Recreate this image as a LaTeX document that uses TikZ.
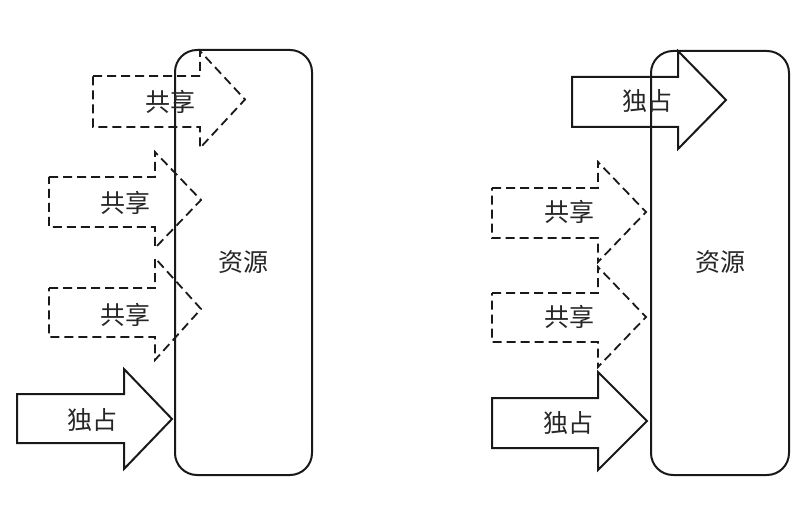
\documentclass[tikz,border=0pt]{standalone}
\usepackage{fontspec}
\newfontfamily\cjk{Noto Sans CJK SC}
\newcommand{\blockarrow}[9]{\draw[#1] (#2,#3) -- (#5,#3) -- (#5,#6) -- (#8,#9) -- (#5,#7) -- (#5,#4) -- (#2,#4) -- cycle;}
\tikzset{
  res/.style={draw=black!90, line width=2pt, rounded corners=22pt},
  solidarrow/.style={draw=black!90, line width=2pt, line join=miter},
  dasharrow/.style={draw=black!90, line width=1.8pt, dash pattern=on 9pt off 5pt},
  lbl/.style={font=\cjk\fontsize{25}{30}\selectfont, text=black!85, inner sep=0pt}
}
\begin{document}
\begin{tikzpicture}[x=1pt,y=-1pt]
\useasboundingbox (0,0) rectangle (800,505);
% resource boxes
\draw[res] (175,50) rectangle (312,475);
\draw[res] (651,51) rectangle (789,475);
% left panel arrows
\blockarrow{dasharrow}{93}{76}{127}{200}{51}{148}{245}{99.5}
\blockarrow{dasharrow}{49}{177}{227}{155}{152}{248}{201}{200}
\blockarrow{dasharrow}{49}{288}{337}{155}{258}{360}{201}{309}
\blockarrow{solidarrow}{17}{394}{443}{124}{369}{469}{172}{419}
% right panel arrows
\blockarrow{solidarrow}{572}{77}{127}{678}{51}{149}{726}{100}
\blockarrow{dasharrow}{492}{188}{238}{598}{162}{262}{646}{212}
\blockarrow{dasharrow}{492}{293}{342}{598}{267}{367}{646}{317}
\blockarrow{solidarrow}{492}{398}{448}{598}{372}{470}{647}{421}
% labels
\node[lbl] (l1) at (170,102) {共享};
\node[lbl] (l2) at (125,203) {共享};
\node[lbl] (l3) at (125,315) {共享};
\node[lbl] (l4) at (92,420) {独占};
\node[lbl] (lres) at (243,262) {资源};
\node[lbl] (r1) at (647,101) {独占};
\node[lbl] (r2) at (569,212) {共享};
\node[lbl] (r3) at (569,317) {共享};
\node[lbl] (r4) at (568,423) {独占};
\node[lbl] (rres) at (720,262) {资源};
\end{tikzpicture}
\end{document}
